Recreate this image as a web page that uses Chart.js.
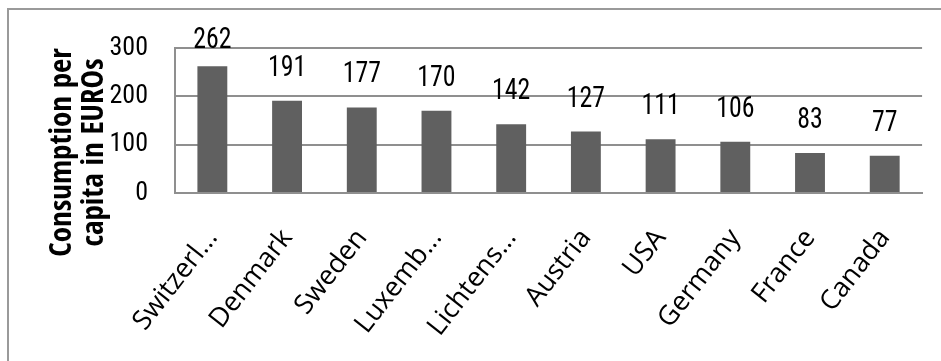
<!DOCTYPE html>
<html><head><meta charset="utf-8">
<script src="https://cdn.jsdelivr.net/npm/chart.js@4"></script>
<style>
html,body{margin:0;padding:0;background:#fff;overflow:hidden;}
#wrap{position:relative;width:941px;height:361px;overflow:hidden;}
#frame{position:absolute;left:7px;top:8px;width:1000px;height:400px;border:2px solid #9a9a9a;box-sizing:border-box;}
canvas{position:absolute;left:0;top:0;}
</style></head><body>
<div id="wrap"><div id="frame"></div><canvas id="c" width="941" height="361"></canvas></div>
<script>
const categories = ['Switzerl...','Denmark','Sweden','Luxemb...','Lichtens...','Austria','USA','Germany','France','Canada'];
const values = [262,191,177,170,142,127,111,106,83,77];
const yTicks = [0,100,200,300];
const axisTitleLines = ['Consumption per','capita in EUROs'];

const COND = '"Roboto Condensed", "DejaVu Sans Condensed", Roboto';
Chart.defaults.font.family = '"Open Sans", Lato';

const valueLabels = {
  id: 'valueLabels',
  afterDatasetsDraw(chart) {
    const ctx = chart.ctx;
    const meta = chart.getDatasetMeta(0);
    ctx.save();
    ctx.font = '30px ' + COND;
    ctx.fillStyle = '#000';
    ctx.textAlign = 'center';
    ctx.textBaseline = 'alphabetic';
    meta.data.forEach((bar, i) => {
      const y = Math.max(bar.y - 25, chart.chartArea.top);
      ctx.save();
      ctx.translate(bar.x, y);
      ctx.scale(0.86, 1);
      ctx.fillText(String(values[i]), 0, 0);
      ctx.restore();
    });
    ctx.restore();
  }
};

const axisTitle = {
  id: 'axisTitle',
  afterDraw(chart) {
    const ctx = chart.ctx;
    const ya = chart.scales.y;
    const cy = (ya.top + ya.bottom) / 2 + 32;
    ctx.save();
    ctx.font = 'bold 31px "Open Sans Condensed", "Roboto Condensed", "DejaVu Sans Condensed"';
    ctx.fillStyle = '#000';
    ctx.textAlign = 'center';
    ctx.textBaseline = 'alphabetic';
    axisTitleLines.forEach((line, i) => {
      ctx.save();
      ctx.translate(71 + i * 32, cy);
      ctx.rotate(-Math.PI / 2);
      ctx.fillText(line, 0, 0);
      ctx.restore();
    });
    ctx.restore();
  }
};

new Chart(document.getElementById('c'), {
  type: 'bar',
  data: {
    labels: categories,
    datasets: [{
      data: values,
      backgroundColor: '#606060',
      borderWidth: 0,
      categoryPercentage: 1,
      barPercentage: 0.4
    }]
  },
  options: {
    responsive: false,
    animation: false,
    layout: { padding: { top: 48, right: 15, left: 0, bottom: 0 } },
    plugins: { legend: { display: false }, tooltip: { enabled: false } },
    scales: {
      y: {
        min: 0, max: 300,
        afterBuildTicks: s => { s.ticks = yTicks.map(v => ({ value: v })); },
        afterFit: s => { s.width = 175; },
        ticks: { font: { size: 26, family: COND }, color: '#000', padding: 27 },
        grid: { color: '#8f8f8f', lineWidth: 2, drawTicks: false },
        border: { display: true, color: '#8f8f8f', width: 2 }
      },
      x: {
        afterFit: s => { s.height = 361 - 193; },
        grid: { display: false, drawTicks: false },
        border: { display: true, color: '#8f8f8f', width: 2 },
        ticks: {
          autoSkip: false, maxRotation: 52, minRotation: 52,
          font: { size: 27, family: '"Open Sans", Lato' }, color: '#000', padding: 30
        }
      }
    }
  },
  plugins: [valueLabels, axisTitle]
});
</script>
</body></html>
